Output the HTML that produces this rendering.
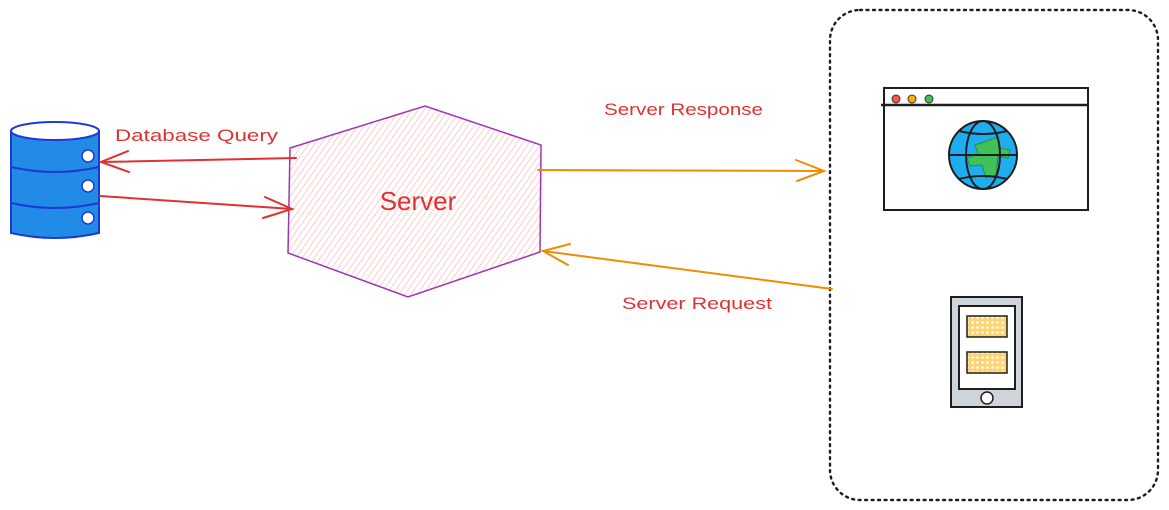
<!DOCTYPE html>
<html><head><meta charset="utf-8"><style>
html,body{margin:0;padding:0;background:#fff;width:1169px;height:510px;overflow:hidden}
text{font-family:"Liberation Sans",sans-serif}
</style></head><body>
<svg width="1169" height="510" viewBox="0 0 1169 510" xmlns="http://www.w3.org/2000/svg">
<defs>
<pattern id="hatch" width="5" height="5" patternUnits="userSpaceOnUse" patternTransform="rotate(35)">
<line x1="0" y1="0" x2="0" y2="5" stroke="#ffc0c0" stroke-width="1.6"/>
</pattern>
<pattern id="cross" width="5" height="5" patternUnits="userSpaceOnUse">
<rect width="5" height="5" fill="#ffd470"/>
<circle cx="2.5" cy="2.5" r="1.3" fill="#fff"/>
</pattern>
</defs>
<rect x="830" y="10" width="328" height="490" rx="30" fill="none" stroke="#1e1e1e" stroke-width="2.4" stroke-dasharray="2 4.5" stroke-linecap="round"/>
<polygon points="290,148 425,106 541,145 540,252 408,297 288,253" fill="url(#hatch)" stroke="#9c36b5" stroke-width="1.5"/>
<text x="418" y="210" font-size="26" fill="#e03131" text-anchor="middle">Server</text>
<path d="M11,131 L11,233 Q55,243 99,233 L99,131 Z" fill="#228be6" stroke="#1c3ad8" stroke-width="2"/>
<ellipse cx="55" cy="131" rx="44" ry="9" fill="#fff" stroke="#1c3ad8" stroke-width="2"/>
<path d="M11,167 Q55,177 99,167 M11,203 Q55,213 99,203" fill="none" stroke="#1c3ad8" stroke-width="2"/>
<circle cx="88" cy="156" r="6" fill="#fff" stroke="#1c3ad8" stroke-width="1.5"/>
<circle cx="88" cy="186" r="6" fill="#fff" stroke="#1c3ad8" stroke-width="1.5"/>
<circle cx="88" cy="218" r="6" fill="#fff" stroke="#1c3ad8" stroke-width="1.5"/>
<g stroke="#e03131" stroke-width="2" fill="none" stroke-linecap="round">
<line x1="296" y1="158" x2="101" y2="162"/>
<polyline points="128,151 101,162 129,172"/>
<line x1="100" y1="196" x2="292" y2="209"/>
<polyline points="265,197 292,209 263,218"/>
</g>
<text x="115" y="141" font-size="17" fill="#e03131" textLength="163" lengthAdjust="spacingAndGlyphs">Database Query</text>
<g stroke="#f08c00" stroke-width="2" fill="none" stroke-linecap="round">
<line x1="538" y1="170" x2="824" y2="171"/>
<polyline points="796,160 824,171 797,181"/>
<line x1="832" y1="289" x2="543" y2="251"/>
<polyline points="570,244 543,251 568,265"/>
</g>
<text x="604" y="115" font-size="17" fill="#e03131" textLength="159" lengthAdjust="spacingAndGlyphs">Server Response</text>
<text x="622" y="309" font-size="17" fill="#e03131" textLength="150" lengthAdjust="spacingAndGlyphs">Server Request</text>
<rect x="884" y="88" width="204" height="122" fill="#fff" stroke="#1e1e1e" stroke-width="2"/>
<line x1="881" y1="105" x2="1088" y2="105" stroke="#1e1e1e" stroke-width="2.5"/>
<circle cx="896" cy="99" r="4" fill="#fa5252" stroke="#333" stroke-width="1"/>
<circle cx="912" cy="99" r="4" fill="#fab005" stroke="#333" stroke-width="1"/>
<circle cx="929" cy="99" r="4" fill="#40c057" stroke="#333" stroke-width="1"/>
<circle cx="983" cy="155" r="34" fill="#1eaef0" stroke="#1e1e1e" stroke-width="2"/>
<path d="M975,145 L998,137 L1000,148 L1010,150 L1008,158 L998,156 L996,175 L986,178 L982,165 L970,166 L967,158 L978,154 Z" fill="#40c057" stroke="#2b8a3e" stroke-width="1"/>
<ellipse cx="983" cy="155" rx="17" ry="34" fill="none" stroke="#1e1e1e" stroke-width="2"/>
<line x1="949" y1="155" x2="1017" y2="155" stroke="#1e1e1e" stroke-width="2"/>
<path d="M959,131 Q983,137 1007,131 M959,179 Q983,173 1007,179" fill="none" stroke="#1e1e1e" stroke-width="2"/>
<rect x="951" y="297" width="71" height="110" fill="#ced4da" stroke="#1e1e1e" stroke-width="2"/>
<rect x="959" y="306" width="56" height="83" fill="#fff" stroke="#1e1e1e" stroke-width="2"/>
<rect x="967" y="316" width="40" height="21" fill="url(#cross)" stroke="#1e1e1e" stroke-width="1.5"/>
<rect x="967" y="352" width="40" height="21" fill="url(#cross)" stroke="#1e1e1e" stroke-width="1.5"/>
<circle cx="987" cy="398" r="6" fill="#fff" stroke="#1e1e1e" stroke-width="1.5"/>
</svg>
</body></html>
